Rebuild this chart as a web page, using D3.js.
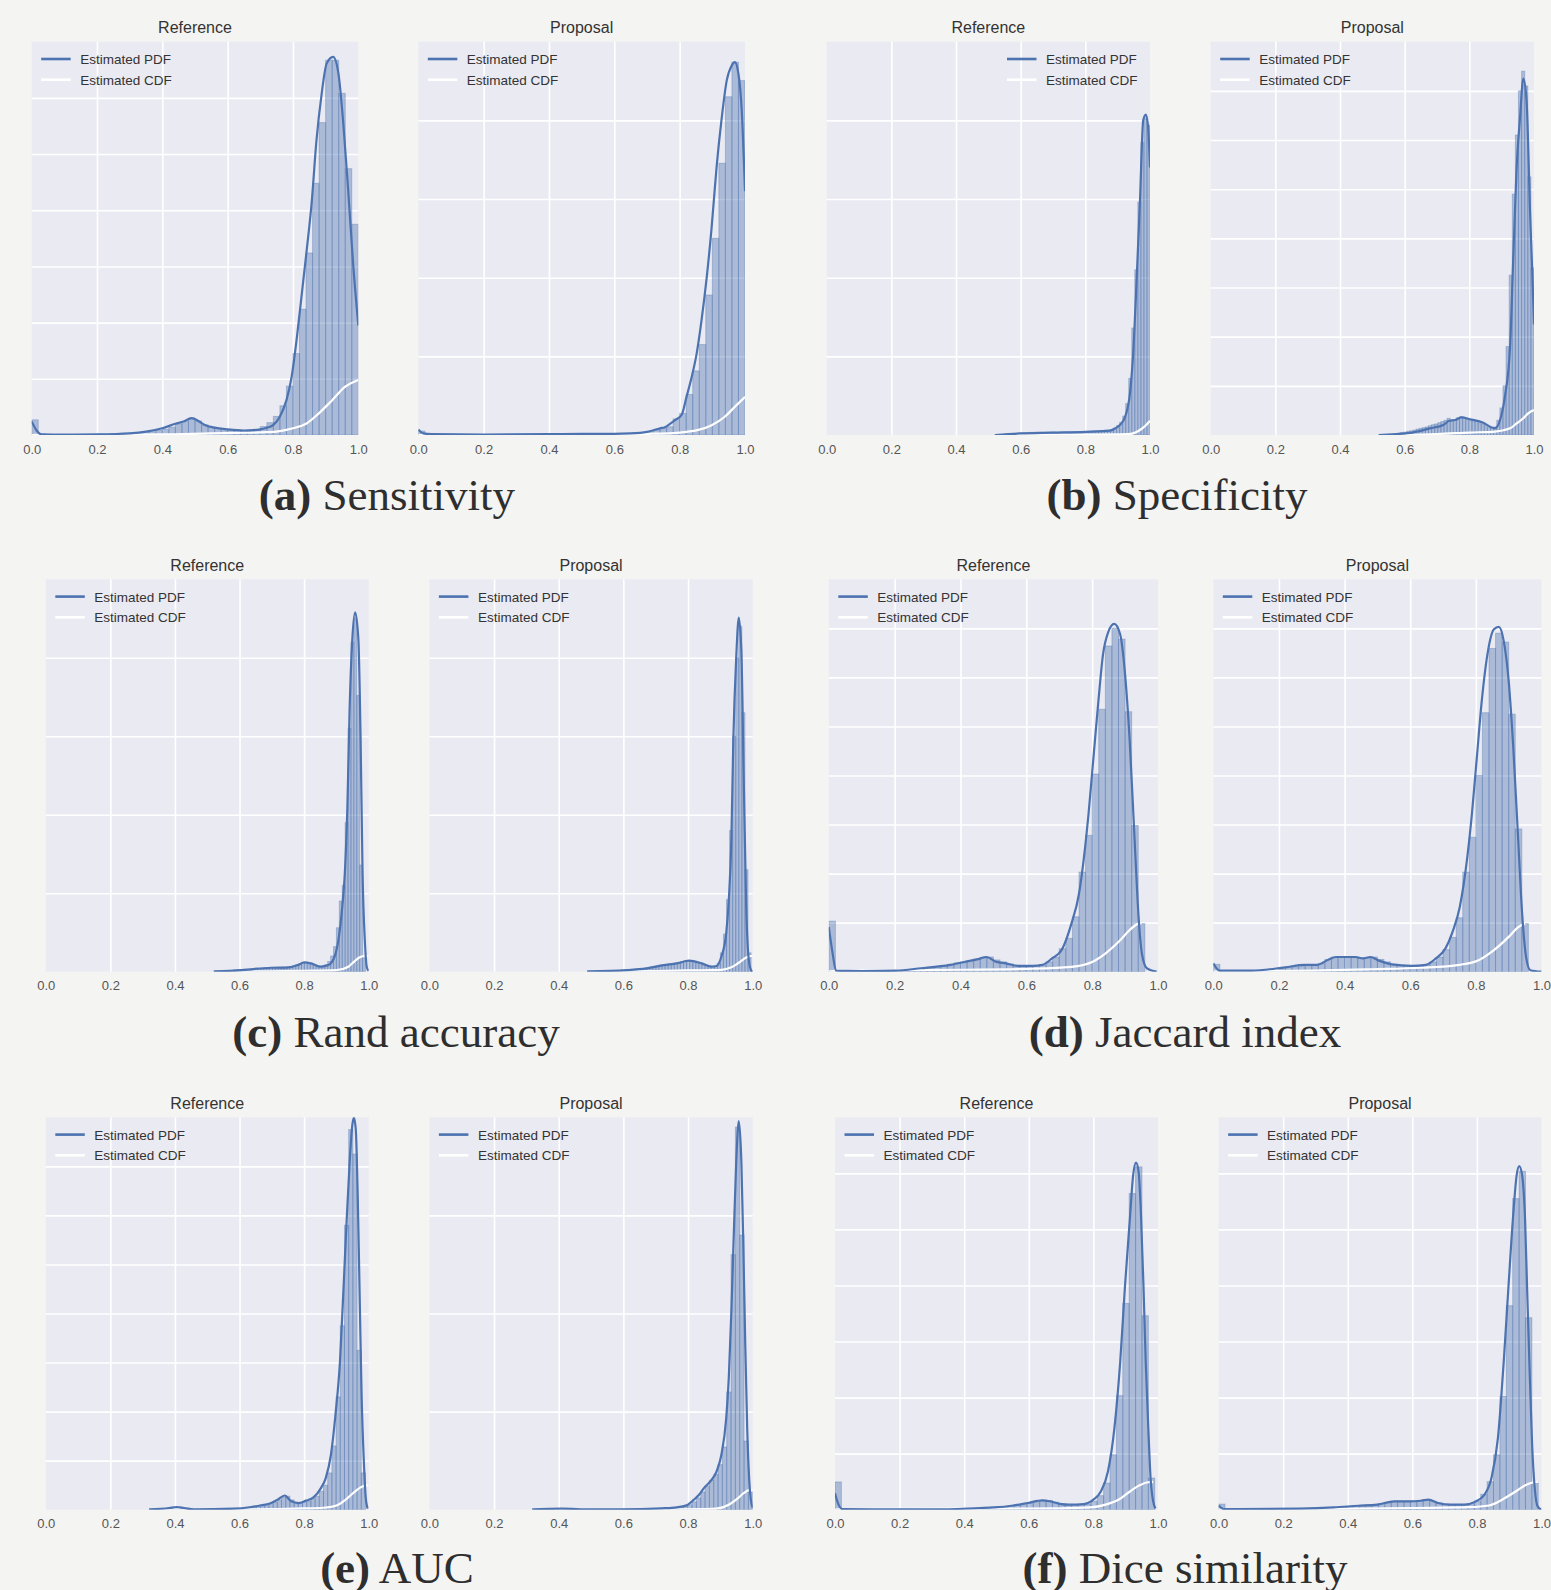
<!DOCTYPE html>
<html lang="en">
<head>
<meta charset="utf-8">
<title>Metric distributions: Reference vs Proposal</title>
<script src="https://d3js.org/d3.v7.min.js"></script>
<style>
  body { margin: 0; background: #f4f4f2; }
  svg { display: block; }
</style>
</head>
<body>
<svg width="1551" height="1590"></svg>
<script>
// ---- data ----
const xTickValues = [0, 0.2, 0.4, 0.6, 0.8, 1.0];
const subplotTitles = ["Reference", "Proposal"];
const legendLabels = ["Estimated PDF", "Estimated CDF"];
const captionLetters = ["(a)", "(b)", "(c)", "(d)", "(e)", "(f)"];
const captionNames = ["Sensitivity", "Specificity", "Rand accuracy", "Jaccard index", "AUC", "Dice similarity"];

// per subplot, order: sensRef, sensProp, specRef, specProp, randRef, randProp,
// jaccRef, jaccProp, aucRef, aucProp, diceRef, diceProp
const yLimits   = [7, 10, 25, 16, 25, 25, 8, 8, 16, 20, 14, 14];
const yGridStep = [1, 2, 5, 2, 5, 5, 1, 1, 2, 5, 2, 2];
const binStarts = [0, 0, 0.53, 0.52, 0.54, 0.52, 0, 0, 0.34, 0.33, 0, 0];
const binWidths = [0.02, 0.02, 0.0094, 0.0096, 0.009, 0.0095, 0.02, 0.02, 0.013, 0.0134, 0.0198, 0.0198];

const sensRefHist = [0.27,0.02,0.01,0.01,0.01,0.01,0.01,0.01,0.01,0.01,
  0.02,0.02,0.02,0.02,0.02,0.03,0.04,0.05,0.06,0.08,
  0.1,0.14,0.2,0.24,0.3,0.25,0.18,0.14,0.12,0.1,
  0.09,0.08,0.08,0.09,0.1,0.15,0.22,0.33,0.52,0.87,
  1.45,2.24,3.24,4.48,5.56,6.67,6.67,6.08,4.74,3.75];
const sensPropHist = [0.1,0.01,0.01,0.01,0.01,0.01,0.01,0.01,0.01,0.01,
  0.01,0.01,0.01,0.01,0.01,0.01,0.01,0.01,0.01,0.01,
  0.02,0.02,0.02,0.03,0.03,0.03,0.03,0.03,0.03,0.03,
  0.04,0.04,0.04,0.04,0.05,0.08,0.13,0.17,0.21,0.41,
  0.55,1.03,1.63,2.3,3.56,5.0,6.91,8.6,9.48,9.01];
const specRefHist = [0.02,0.03,0.04,0.05,0.06,0.08,0.1,0.12,0.14,0.15,
  0.16,0.17,0.18,0.18,0.17,0.16,0.17,0.18,0.18,0.17,
  0.17,0.18,0.18,0.19,0.2,0.2,0.2,0.21,0.22,0.22,
  0.23,0.24,0.24,0.25,0.27,0.3,0.3,0.35,0.45,0.6,
  0.8,1.2,2.0,3.6,6.8,10.5,14.8,18.6,20.1,19.7];
const specPropHist = [0.02,0.03,0.03,0.04,0.05,0.06,0.08,0.1,0.12,0.15,
  0.17,0.2,0.24,0.27,0.3,0.33,0.38,0.42,0.45,0.5,
  0.55,0.6,0.68,0.6,0.62,0.7,0.75,0.7,0.65,0.62,
  0.6,0.55,0.5,0.45,0.38,0.3,0.28,0.33,0.6,1.1,
  2.0,3.6,6.5,9.8,12.2,14.0,14.8,14.2,10.5,6.8];
const randRefHist = [0.02,0.03,0.05,0.06,0.08,0.1,0.12,0.14,0.15,0.16,
  0.18,0.2,0.22,0.2,0.22,0.25,0.24,0.25,0.26,0.25,
  0.26,0.28,0.28,0.3,0.32,0.38,0.45,0.52,0.6,0.58,
  0.55,0.5,0.42,0.35,0.32,0.35,0.45,0.65,1.0,1.6,
  2.8,4.5,5.5,9.5,15.5,21.0,22.5,17.6,6.8,1.0];
const randPropHist = [0.02,0.03,0.04,0.05,0.06,0.07,0.08,0.09,0.1,0.11,
  0.12,0.14,0.16,0.18,0.2,0.22,0.25,0.3,0.34,0.38,
  0.42,0.45,0.48,0.5,0.52,0.55,0.6,0.64,0.68,0.7,
  0.68,0.64,0.58,0.52,0.45,0.38,0.34,0.32,0.35,0.55,
  1.2,2.4,4.6,9.0,15.0,20.0,22.0,16.5,6.5,1.2];
const jaccRefHist = [1.03,0.01,0.01,0.01,0.01,0.01,0.01,0.01,0.01,0.01,
  0.02,0.03,0.04,0.05,0.07,0.08,0.1,0.12,0.15,0.18,
  0.2,0.22,0.26,0.28,0.3,0.24,0.2,0.16,0.13,0.12,
  0.12,0.12,0.14,0.2,0.3,0.47,0.68,1.12,2.03,2.78,
  4.03,5.35,6.64,7.0,6.78,5.3,2.98,0.98];
const jaccPropHist = [0.15,0.02,0.02,0.02,0.02,0.02,0.02,0.02,0.02,0.02,
  0.06,0.09,0.1,0.12,0.14,0.14,0.17,0.25,0.3,0.3,
  0.3,0.3,0.28,0.28,0.3,0.25,0.2,0.15,0.13,0.12,
  0.12,0.13,0.14,0.2,0.3,0.45,0.7,1.1,2.03,2.74,
  4.0,5.28,6.59,6.9,6.72,5.25,2.91,0.98];
const aucRefHist = [0.02,0.03,0.05,0.08,0.1,0.11,0.09,0.06,0.03,0.02,
  0.01,0.01,0.01,0.01,0.02,0.02,0.02,0.03,0.03,0.04,
  0.04,0.05,0.07,0.1,0.13,0.17,0.2,0.25,0.3,0.4,
  0.5,0.55,0.4,0.3,0.3,0.3,0.35,0.45,0.55,0.75,
  1.0,1.5,2.6,4.6,7.5,11.6,15.5,14.5,6.5,1.5];
const aucPropHist = [0.02,0.02,0.03,0.04,0.05,0.06,0.05,0.04,0.03,0.02,
  0.02,0.02,0.02,0.02,0.02,0.02,0.02,0.02,0.02,0.03,
  0.03,0.03,0.03,0.04,0.04,0.05,0.05,0.06,0.06,0.07,
  0.07,0.08,0.1,0.12,0.2,0.25,0.4,0.6,0.9,1.2,
  1.5,1.8,2.3,3.2,6.0,13.0,19.5,14.0,3.5,0.9];
const diceRefHist = [0.99,0.02,0.01,0.01,0.01,0.01,0.01,0.01,0.01,0.01,
  0.01,0.01,0.01,0.01,0.01,0.02,0.02,0.02,0.02,0.02,
  0.03,0.04,0.05,0.06,0.08,0.09,0.11,0.14,0.17,0.2,
  0.24,0.28,0.32,0.33,0.27,0.21,0.18,0.18,0.18,0.2,
  0.3,0.5,0.95,1.96,4.07,7.36,11.28,12.23,6.92,1.13];
const dicePropHist = [0.2,0.02,0.02,0.02,0.02,0.02,0.02,0.02,0.02,0.02,
  0.03,0.03,0.03,0.03,0.03,0.04,0.05,0.07,0.08,0.1,
  0.12,0.14,0.15,0.17,0.19,0.22,0.26,0.3,0.3,0.3,
  0.31,0.33,0.34,0.3,0.24,0.2,0.18,0.18,0.19,0.22,
  0.3,0.55,1.0,1.96,4.04,7.28,11.1,12.07,6.85,0.95];

// estimated PDF curves, [x, density]
const sensRefPdf = [[0,0.24],[0.015,0.08],[0.03,0.01],[0.1,0.005],[0.2,0.01],[0.3,0.03],[0.35,0.06],[0.4,0.12],[0.44,0.2],[0.465,0.24],[0.49,0.3],[0.51,0.25],[0.53,0.18],[0.56,0.13],[0.6,0.1],[0.65,0.08],[0.7,0.1],[0.72,0.13],[0.74,0.18],[0.76,0.33],[0.78,0.62],[0.796,1.04],[0.811,1.69],[0.826,2.46],[0.842,3.29],[0.857,4.12],[0.872,5.25],[0.888,6.08],[0.903,6.61],[0.923,6.73],[0.939,6.44],[0.954,5.55],[0.969,4.36],[0.984,3.06],[1.0,1.95]];
const sensPropPdf = [[0,0.14],[0.015,0.04],[0.04,0.02],[0.2,0.01],[0.4,0.02],[0.5,0.03],[0.6,0.03],[0.65,0.04],[0.7,0.08],[0.72,0.12],[0.74,0.17],[0.755,0.2],[0.765,0.25],[0.786,0.38],[0.806,0.51],[0.821,0.97],[0.837,1.48],[0.852,2.07],[0.867,2.92],[0.883,4.02],[0.898,5.29],[0.913,6.81],[0.929,8.08],[0.944,9.01],[0.959,9.39],[0.969,9.48],[0.98,9.18],[0.99,8.25],[1.0,6.2]];
const specRefPdf = [[0.52,0],[0.6,0.1],[0.7,0.15],[0.8,0.2],[0.876,0.28],[0.892,0.42],[0.907,0.63],[0.923,1.16],[0.938,2.65],[0.948,5.2],[0.959,10.05],[0.969,14.9],[0.979,20.0],[0.987,20.36],[0.994,19.6],[1.0,17.0]];
const specPropPdf = [[0.52,0],[0.575,0.04],[0.627,0.11],[0.678,0.27],[0.72,0.41],[0.738,0.58],[0.756,0.61],[0.776,0.72],[0.802,0.64],[0.843,0.5],[0.864,0.34],[0.879,0.27],[0.895,0.61],[0.91,1.56],[0.926,3.6],[0.936,7.25],[0.946,10.8],[0.957,12.95],[0.967,14.5],[0.977,13.6],[0.988,9.0],[0.995,6.5],[1.0,4.5]];
const randRefPdf = [[0.52,0.02],[0.606,0.1],[0.644,0.17],[0.698,0.25],[0.752,0.28],[0.78,0.42],[0.801,0.59],[0.821,0.53],[0.852,0.32],[0.875,0.42],[0.894,0.95],[0.906,2.0],[0.918,4.1],[0.926,6.25],[0.934,10.5],[0.941,16.8],[0.949,21.1],[0.958,22.9],[0.968,21.2],[0.975,14.7],[0.981,6.25],[0.988,2.0],[0.994,0.3],[1.0,0.05]];
const randPropPdf = [[0.488,0.02],[0.611,0.1],[0.672,0.21],[0.726,0.42],[0.765,0.53],[0.803,0.7],[0.842,0.53],[0.872,0.32],[0.888,0.36],[0.903,0.95],[0.918,2.44],[0.926,4.55],[0.934,8.4],[0.94,14.7],[0.949,20.0],[0.957,22.56],[0.965,20.4],[0.972,12.6],[0.98,4.1],[0.988,0.74],[0.995,0.1],[1.0,0]];
const jaccRefPdf = [[0,0.91],[0.011,0.4],[0.022,0.02],[0.1,0.01],[0.2,0.02],[0.28,0.07],[0.369,0.14],[0.428,0.22],[0.45,0.25],[0.479,0.3],[0.509,0.2],[0.538,0.17],[0.575,0.12],[0.619,0.12],[0.649,0.14],[0.678,0.27],[0.708,0.45],[0.737,0.98],[0.76,1.59],[0.774,2.27],[0.789,3.22],[0.804,4.37],[0.819,5.52],[0.833,6.47],[0.848,6.91],[0.867,7.09],[0.885,6.88],[0.9,6.06],[0.914,4.71],[0.929,2.68],[0.941,1.12],[0.951,0.37],[0.966,0.07],[0.996,0]];
const jaccPropPdf = [[0,0.17],[0.019,0.02],[0.115,0.02],[0.219,0.09],[0.278,0.14],[0.315,0.14],[0.352,0.25],[0.374,0.3],[0.433,0.3],[0.456,0.27],[0.478,0.3],[0.507,0.22],[0.544,0.15],[0.604,0.12],[0.648,0.14],[0.678,0.27],[0.707,0.47],[0.729,0.81],[0.751,1.32],[0.774,2.34],[0.788,3.22],[0.803,4.37],[0.818,5.52],[0.837,6.54],[0.855,6.98],[0.87,7.03],[0.885,6.74],[0.9,5.93],[0.914,4.57],[0.929,2.68],[0.941,1.19],[0.953,0.3],[0.966,0.03],[1.0,0]];
const aucRefPdf = [[0.32,0.01],[0.382,0.07],[0.405,0.11],[0.428,0.07],[0.459,0.01],[0.582,0.04],[0.636,0.11],[0.667,0.18],[0.698,0.27],[0.718,0.41],[0.74,0.58],[0.76,0.34],[0.783,0.27],[0.806,0.37],[0.829,0.5],[0.852,0.88],[0.867,1.29],[0.883,2.24],[0.898,4.0],[0.911,6.03],[0.921,8.74],[0.932,11.86],[0.941,14.16],[0.949,15.65],[0.954,15.99],[0.96,15.5],[0.966,12.8],[0.972,8.74],[0.978,4.67],[0.985,1.96],[0.991,0.47],[0.997,0.04]];
const aucPropPdf = [[0.318,0.02],[0.41,0.05],[0.5,0.02],[0.595,0.02],[0.718,0.07],[0.765,0.12],[0.795,0.22],[0.818,0.51],[0.834,0.76],[0.849,1.1],[0.869,1.44],[0.888,1.94],[0.903,2.79],[0.918,4.65],[0.926,6.7],[0.934,10.1],[0.942,14.3],[0.949,17.7],[0.957,19.8],[0.965,17.7],[0.971,13.5],[0.977,8.4],[0.983,4.14],[0.989,1.6],[0.995,0.42],[1.0,0.1]];
const diceRefPdf = [[0,0.59],[0.011,0.18],[0.023,0.02],[0.31,0.01],[0.447,0.06],[0.492,0.08],[0.552,0.15],[0.597,0.24],[0.642,0.33],[0.665,0.3],[0.695,0.21],[0.725,0.18],[0.77,0.2],[0.8,0.36],[0.823,0.65],[0.845,1.36],[0.865,2.91],[0.883,5.28],[0.898,8.01],[0.913,10.39],[0.923,11.93],[0.932,12.38],[0.94,12.05],[0.947,10.62],[0.955,8.01],[0.962,5.28],[0.97,2.91],[0.977,1.13],[0.985,0.3],[0.992,0.04]];
const dicePropPdf = [[0,0.15],[0.018,0.02],[0.251,0.04],[0.356,0.08],[0.432,0.14],[0.492,0.18],[0.544,0.3],[0.589,0.3],[0.627,0.32],[0.65,0.36],[0.68,0.24],[0.717,0.18],[0.762,0.18],[0.792,0.27],[0.823,0.53],[0.845,1.13],[0.865,2.55],[0.883,5.28],[0.898,8.01],[0.913,10.62],[0.923,11.93],[0.931,12.26],[0.94,11.93],[0.949,10.39],[0.956,7.66],[0.964,4.69],[0.971,2.31],[0.979,0.77],[0.988,0.12],[1.0,0]];

// estimated CDF curves, [x, cumulative]
const sensRefCdf = [[0,0],[0.02,0.003],[0.4,0.01],[0.55,0.03],[0.65,0.04],[0.72,0.05],[0.76,0.07],[0.8,0.12],[0.84,0.2],[0.88,0.39],[0.92,0.62],[0.96,0.86],[1.0,0.98]];
const sensPropCdf = [[0,0],[0.5,0.01],[0.7,0.03],[0.78,0.05],[0.82,0.08],[0.857,0.13],[0.898,0.25],[0.939,0.47],[0.969,0.72],[1.0,0.97]];
const specRefCdf = [[0.53,0],[0.8,0.02],[0.93,0.05],[0.948,0.1],[0.969,0.32],[0.985,0.57],[1.0,0.91]];
const specPropCdf = [[0.52,0],[0.6,0.01],[0.7,0.04],[0.8,0.1],[0.88,0.14],[0.926,0.27],[0.946,0.47],[0.967,0.68],[0.982,0.88],[1.0,1.02]];
const randRefCdf = [[0.52,0],[0.7,0.03],[0.8,0.06],[0.9,0.1],[0.937,0.32],[0.955,0.64],[0.971,0.91],[0.985,0.99],[1.0,1.0]];
const randPropCdf = [[0.49,0],[0.7,0.04],[0.8,0.08],[0.903,0.12],[0.934,0.28],[0.957,0.57],[0.98,0.91],[0.995,1.0],[1.0,1.0]];
const jaccRefCdf = [[0,0],[0.03,0.02],[0.4,0.04],[0.62,0.06],[0.737,0.1],[0.8,0.2],[0.84,0.37],[0.885,0.64],[0.914,0.85],[0.937,0.97],[0.95,0.99]];
const jaccPropCdf = [[0,0],[0.02,0.005],[0.3,0.02],[0.485,0.05],[0.633,0.08],[0.75,0.14],[0.81,0.24],[0.855,0.44],[0.9,0.71],[0.929,0.91],[0.95,0.99]];
const aucRefCdf = [[0.32,0],[0.5,0.01],[0.7,0.02],[0.8,0.05],[0.86,0.08],[0.898,0.16],[0.929,0.41],[0.952,0.68],[0.975,0.91],[0.991,0.99],[1.0,0.99]];
const aucPropCdf = [[0.32,0],[0.7,0.01],[0.85,0.03],[0.888,0.05],[0.926,0.25],[0.949,0.51],[0.972,0.84],[0.988,1.0],[1.0,1.01]];
const diceRefCdf = [[0,0],[0.03,0.02],[0.5,0.04],[0.7,0.05],[0.79,0.08],[0.838,0.18],[0.883,0.39],[0.913,0.65],[0.943,0.87],[0.965,0.97],[0.985,0.99]];
const dicePropCdf = [[0,0],[0.3,0.02],[0.6,0.06],[0.777,0.09],[0.838,0.15],[0.883,0.39],[0.92,0.65],[0.95,0.87],[0.973,0.97],[0.988,0.99]];

const hists = [sensRefHist, sensPropHist, specRefHist, specPropHist, randRefHist, randPropHist,
  jaccRefHist, jaccPropHist, aucRefHist, aucPropHist, diceRefHist, dicePropHist];
const pdfs = [sensRefPdf, sensPropPdf, specRefPdf, specPropPdf, randRefPdf, randPropPdf,
  jaccRefPdf, jaccPropPdf, aucRefPdf, aucPropPdf, diceRefPdf, dicePropPdf];
const cdfs = [sensRefCdf, sensPropCdf, specRefCdf, specPropCdf, randRefCdf, randPropCdf,
  jaccRefCdf, jaccPropCdf, aucRefCdf, aucPropCdf, diceRefCdf, dicePropCdf];

// ---- layout (pixels) ----
const rowY = [[41.7, 435], [579.3, 971.7], [1117.3, 1509.7]];
const colX = [
  [[31.7, 358.3], [418.3, 745], [826.7, 1150], [1210.7, 1534]],
  [[45.8, 368.7], [429.4, 752.7], [828.8, 1158], [1213.3, 1541.5]],
  [[45.8, 368.7], [429.4, 752.7], [835, 1158], [1218.6, 1541.5]]
];
const captionPos = [[387, 510], [1177, 510], [396, 1047], [1185, 1047], [397, 1583], [1185, 1583]];

const blue = "#4c72b0";
const sansFont = "'Liberation Sans', Arial, sans-serif";
const svg = d3.select("svg");
const defs = svg.append("defs");

function drawPanel(p) {
    const m = Math.floor(p / 2);
    const row = Math.floor(m / 2);
    const col = (m % 2) * 2 + (p % 2);
    const [x0, x1] = colX[row][col];
    const [y0, y1] = rowY[row];

    const x = d3.scaleLinear().domain([0, 1]).range([x0, x1]);
    const y = d3.scaleLinear().domain([0, yLimits[p]]).range([y1, y0]);

    const g = svg.append("g");
    g.append("rect")
        .attr("x", x0).attr("y", y0)
        .attr("width", x1 - x0).attr("height", y1 - y0)
        .attr("fill", "#eaeaf2");

    // white grid
    g.append("g")
        .attr("transform", `translate(0,${y1})`)
        .call(d3.axisBottom(x).tickValues(xTickValues.slice(1, -1)).tickSize(-(y1 - y0)).tickFormat(""))
        .call(a => a.select(".domain").remove())
        .selectAll("line").attr("stroke", "#fff").attr("stroke-width", 1.6);
    g.append("g")
        .attr("transform", `translate(${x0},0)`)
        .call(d3.axisLeft(y).tickValues(d3.range(yGridStep[p], yLimits[p] - 1e-6, yGridStep[p])).tickSize(-(x1 - x0)).tickFormat(""))
        .call(a => a.select(".domain").remove())
        .selectAll("line").attr("stroke", "#fff").attr("stroke-width", 1.6);

    defs.append("clipPath").attr("id", "clip" + p)
        .append("rect").attr("x", x0).attr("y", y0).attr("width", x1 - x0).attr("height", y1 - y0);
    const plot = g.append("g").attr("clip-path", `url(#clip${p})`);

    // histogram
    const bins = hists[p].map((h, i) => ({
        a: binStarts[p] + i * binWidths[p],
        b: binStarts[p] + (i + 1) * binWidths[p],
        h: h
    }));
    plot.selectAll("rect.bar")
        .data(bins)
        .join("rect")
        .attr("class", "bar")
        .attr("x", d => x(d.a))
        .attr("width", d => x(d.b) - x(d.a))
        .attr("y", d => y(d.h))
        .attr("height", d => y1 - y(d.h))
        .attr("fill", blue).attr("fill-opacity", 0.4)
        .attr("stroke", blue).attr("stroke-opacity", 0.35).attr("stroke-width", 1);

    const line = d3.line()
        .x(d => x(d[0]))
        .y(d => y(d[1]))
        .curve(d3.curveMonotoneX);

    plot.append("path").datum(cdfs[p])
        .attr("d", line).attr("fill", "none")
        .attr("stroke", "#fff").attr("stroke-width", 2.2);
    plot.append("path").datum(pdfs[p])
        .attr("d", line).attr("fill", "none")
        .attr("stroke", blue).attr("stroke-width", 2.2);

    // x tick labels
    g.append("g")
        .attr("transform", `translate(0,${y1})`)
        .call(d3.axisBottom(x).tickValues(xTickValues).tickSize(0).tickPadding(9.5).tickFormat(d3.format(".1f")))
        .call(a => a.select(".domain").remove())
        .attr("font-family", sansFont)
        .attr("font-size", 13)
        .selectAll("text").attr("fill", "#555");

    // subplot title
    g.append("text")
        .attr("x", (x0 + x1) / 2).attr("y", y0 - 8.5)
        .attr("text-anchor", "middle")
        .attr("font-family", sansFont).attr("font-size", 16)
        .attr("fill", "#333")
        .text(subplotTitles[p % 2]);

    // legend
    const lx = p === 2 ? x1 - 143 : x0 + 9.5;
    const legendColors = [blue, "#fff"];
    legendLabels.forEach((lab, k) => {
        const ly = y0 + 17.3 + k * 20.7;
        g.append("line")
            .attr("x1", lx).attr("x2", lx + 29.5)
            .attr("y1", ly).attr("y2", ly)
            .attr("stroke", legendColors[k]).attr("stroke-width", 2.6);
        g.append("text")
            .attr("x", lx + 39).attr("y", ly + 5)
            .attr("font-family", sansFont).attr("font-size", 13.5)
            .attr("fill", "#333")
            .text(lab);
    });
}

d3.range(12).forEach(drawPanel);

// sub-figure captions
captionPos.forEach((pos, i) => {
    const t = svg.append("text")
        .attr("x", pos[0]).attr("y", pos[1])
        .attr("text-anchor", "middle")
        .attr("font-family", "'Liberation Serif', 'DejaVu Serif', serif")
        .attr("font-size", 45)
        .attr("fill", "#2e2e2e")
        .style("white-space", "pre");
    t.append("tspan").attr("font-weight", "bold").text(captionLetters[i]);
    t.append("tspan").text(" " + captionNames[i]);
});
</script>
</body>
</html>
